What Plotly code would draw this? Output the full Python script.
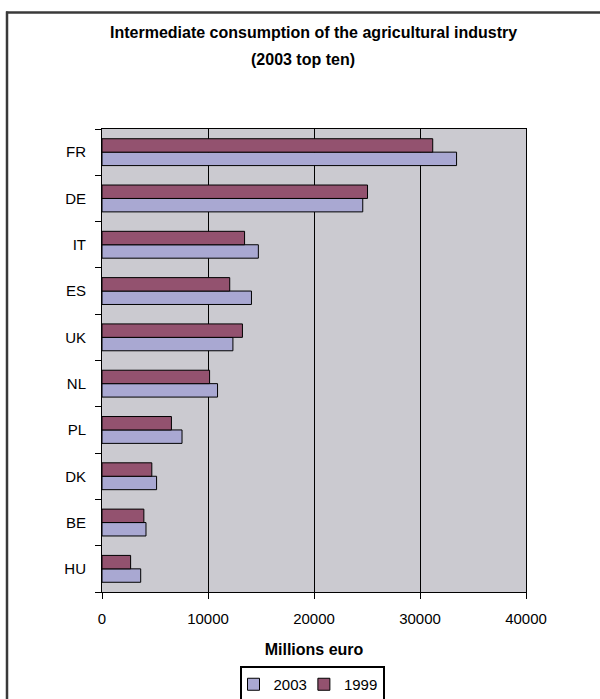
import plotly.graph_objects as go

countries = ["FR", "DE", "IT", "ES", "UK", "NL", "PL", "DK", "BE", "HU"]
values_2003 = [33450, 24600, 14750, 14100, 12350, 10900, 7550, 5150, 4150, 3650]
values_1999 = [31200, 25050, 13450, 12050, 13250, 10150, 6550, 4700, 3950, 2700]
x_ticks = [0, 10000, 20000, 30000, 40000]

# plot area pixel geometry (for paper-coordinate conversions)
L, R, T, B = 102, 526, 129, 592
W, H = R - L, B - T

def px(x):
    return (x - L) / W

def py(y):
    return (B - y) / H

FONT = "Liberation Sans, Arial, sans-serif"
BORDER = dict(color="#3A3A3A", width=2.5)

fig = go.Figure()
fig.add_trace(go.Bar(
    y=countries, x=values_2003, name="2003", orientation="h",
    marker=dict(color="#A9A8D2", line=dict(color="black", width=1)),
))
fig.add_trace(go.Bar(
    y=countries, x=values_1999, name="1999", orientation="h",
    marker=dict(color="#93526F", line=dict(color="black", width=1)),
))

fig.update_layout(
    width=600, height=699,
    margin=dict(l=L, r=600 - R, t=T, b=699 - B, autoexpand=False),
    paper_bgcolor="white",
    plot_bgcolor="#CBCAD0",
    barmode="group",
    bargap=0.42,
    bargroupgap=0,
    font=dict(family=FONT, size=15, color="black"),
    showlegend=True,
    legend=dict(
        orientation="h",
        x=px(312), xanchor="center",
        y=py(666), yanchor="top",
        bordercolor="black", borderwidth=2,
        bgcolor="white",
        font=dict(size=15),
        itemwidth=30,
        indentation=-8,
    ),
    xaxis=dict(
        range=[0, 40000],
        tickvals=x_ticks,
        ticktext=[str(v) for v in x_ticks],
        showgrid=True, gridcolor="black", gridwidth=1,
        zeroline=False,
        showline=True, linecolor="black", linewidth=1, mirror=True,
        ticks="outside", ticklen=6, tickcolor="black",
        ticklabelstandoff=7,
        title=dict(text="<b>Millions euro</b>", font=dict(size=16), standoff=17),
    ),
    yaxis=dict(
        categoryorder="array",
        categoryarray=countries[::-1],
        showgrid=False,
        showline=True, linecolor="black", linewidth=1, mirror=True,
        ticks="outside", ticklen=6, tickcolor="black",
        tickson="boundaries",
        ticklabelstandoff=12,
    ),
    annotations=[
        dict(text="<b>Intermediate consumption of the agricultural industry</b>",
             xref="paper", yref="paper", x=px(313), y=py(33),
             xanchor="center", yanchor="middle", showarrow=False,
             font=dict(size=16)),
        dict(text="<b>(2003 top ten)</b>",
             xref="paper", yref="paper", x=px(303), y=py(60),
             xanchor="center", yanchor="middle", showarrow=False,
             font=dict(size=16)),
    ],
    shapes=[
        # chart-area frame: top edge and left edge (right/bottom fall outside the view)
        dict(type="line", xref="paper", yref="paper",
             x0=px(6), x1=px(610), y0=py(12.5), y1=py(12.5),
             line=BORDER, layer="above"),
        dict(type="line", xref="paper", yref="paper",
             x0=px(7), x1=px(7), y0=py(11.5), y1=py(710),
             line=BORDER, layer="above"),
    ],
)

fig.write_html("out.html", config={"displayModeBar": False},
               post_script="document.body.style.margin='0';")
